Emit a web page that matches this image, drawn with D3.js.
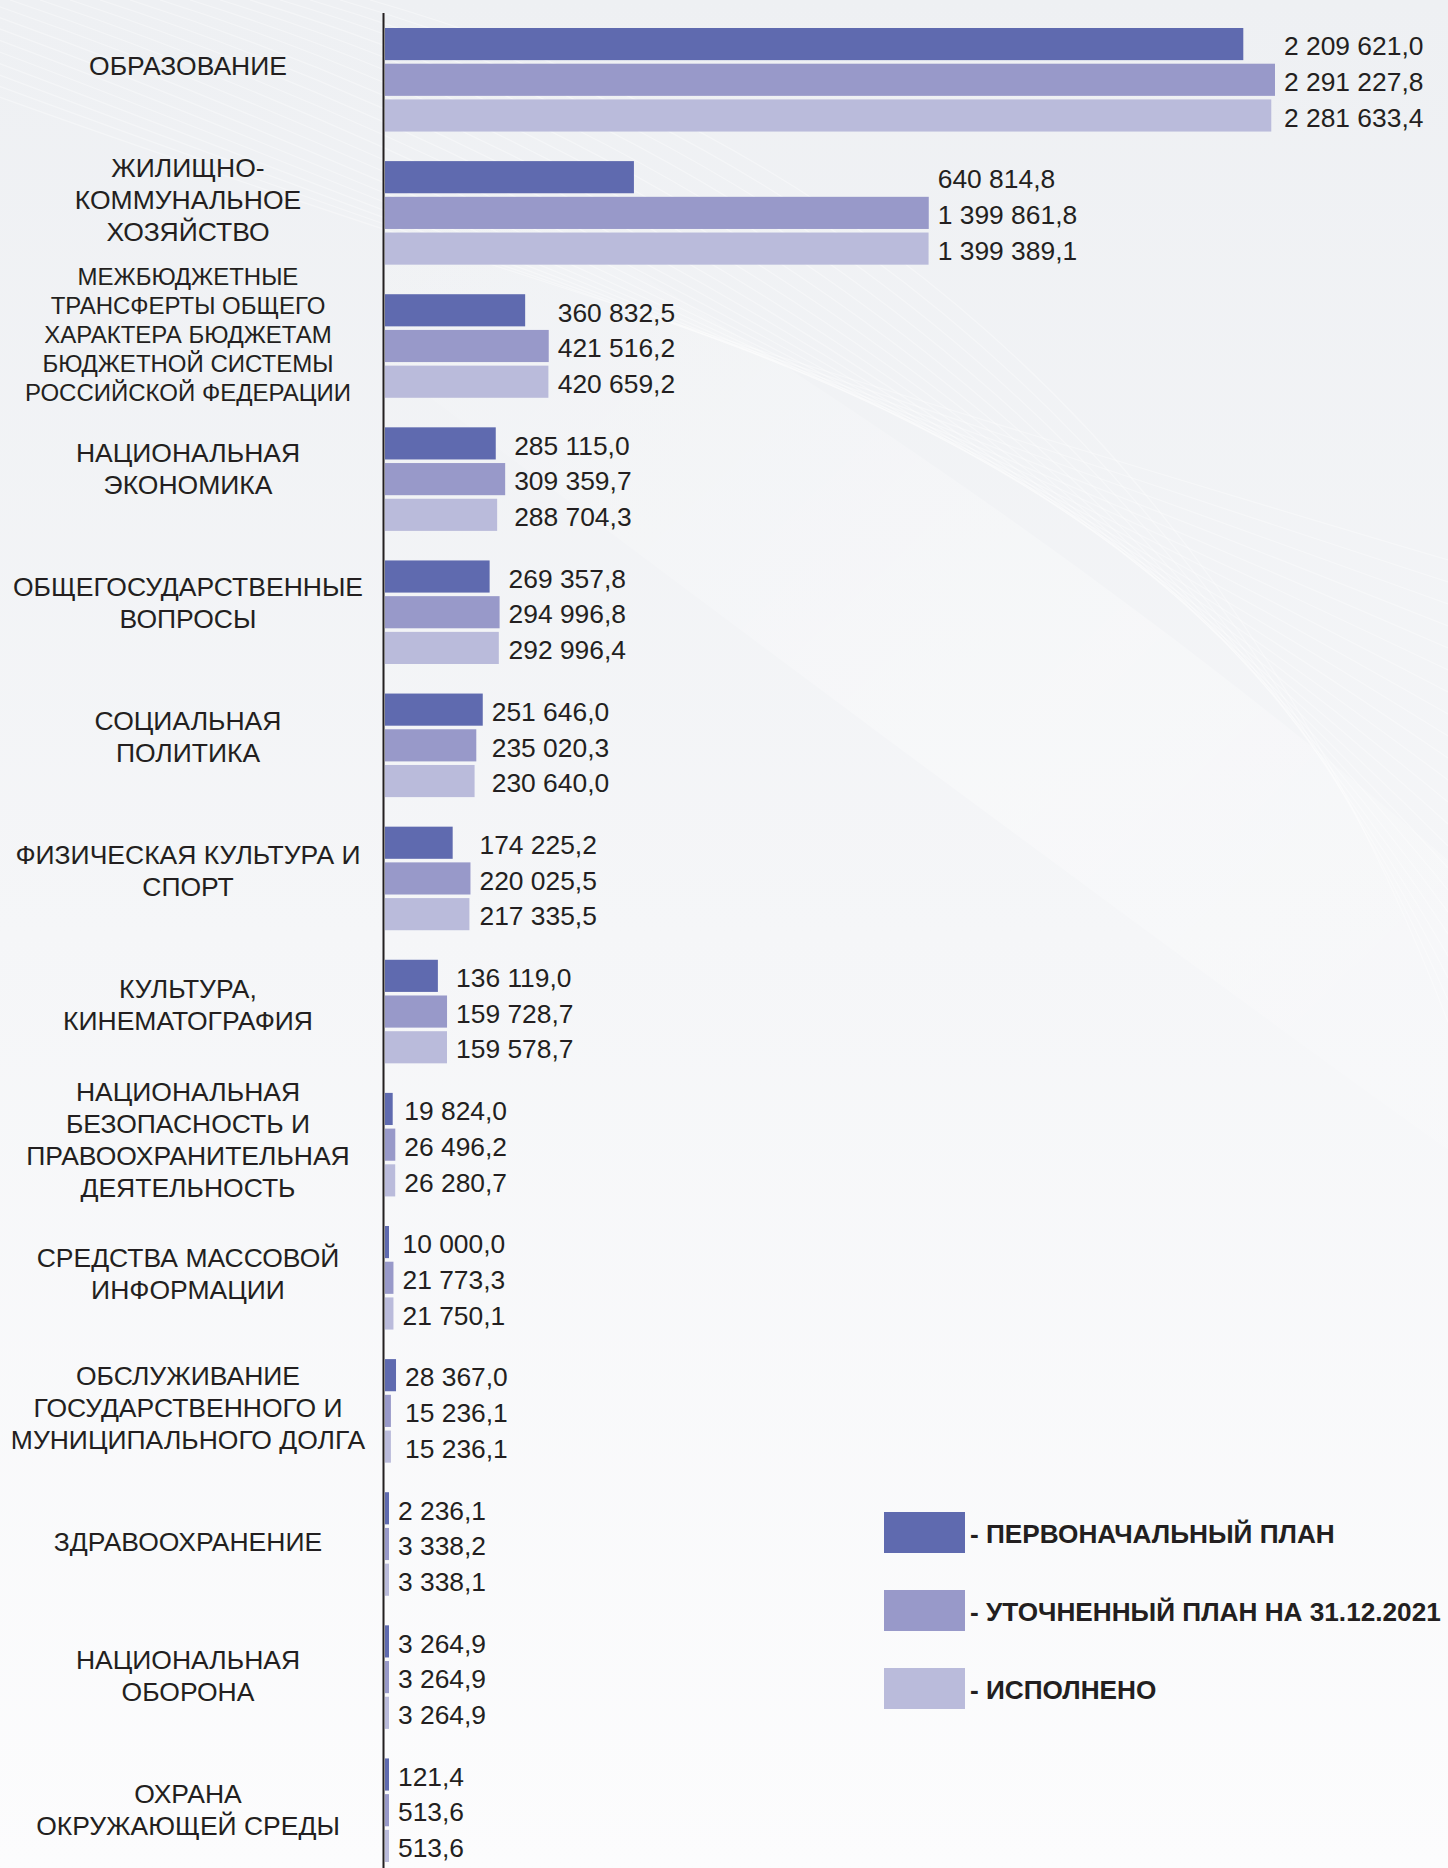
<!DOCTYPE html>
<html>
<head>
<meta charset="utf-8">
<script src="https://cdn.jsdelivr.net/npm/d3@7"></script>
<style>
  html, body { margin: 0; padding: 0; background: #f4f5f7; }
  svg { display: block; font-family: "Liberation Sans", Arial, sans-serif; }
</style>
</head>
<body>
<svg width="1448" height="1868"></svg>
<script>
// categories (label lines split by "\n")
var categories = [
    "ОБРАЗОВАНИЕ",
    "ЖИЛИЩНО-\nКОММУНАЛЬНОЕ\nХОЗЯЙСТВО",
    "МЕЖБЮДЖЕТНЫЕ\nТРАНСФЕРТЫ ОБЩЕГО\nХАРАКТЕРА БЮДЖЕТАМ\nБЮДЖЕТНОЙ СИСТЕМЫ\nРОССИЙСКОЙ ФЕДЕРАЦИИ",
    "НАЦИОНАЛЬНАЯ\nЭКОНОМИКА",
    "ОБЩЕГОСУДАРСТВЕННЫЕ\nВОПРОСЫ",
    "СОЦИАЛЬНАЯ\nПОЛИТИКА",
    "ФИЗИЧЕСКАЯ КУЛЬТУРА И\nСПОРТ",
    "КУЛЬТУРА,\nКИНЕМАТОГРАФИЯ",
    "НАЦИОНАЛЬНАЯ\nБЕЗОПАСНОСТЬ И\nПРАВООХРАНИТЕЛЬНАЯ\nДЕЯТЕЛЬНОСТЬ",
    "СРЕДСТВА МАССОВОЙ\nИНФОРМАЦИИ",
    "ОБСЛУЖИВАНИЕ\nГОСУДАРСТВЕННОГО И\nМУНИЦИПАЛЬНОГО ДОЛГА",
    "ЗДРАВООХРАНЕНИЕ",
    "НАЦИОНАЛЬНАЯ\nОБОРОНА",
    "ОХРАНА\nОКРУЖАЮЩЕЙ СРЕДЫ"
];

var seriesNames = [
    "- ПЕРВОНАЧАЛЬНЫЙ ПЛАН",
    "- УТОЧНЕННЫЙ ПЛАН НА 31.12.2021",
    "- ИСПОЛНЕНО"
];

var initialPlan = [2209621.0, 640814.8, 360832.5, 285115.0, 269357.8, 251646.0, 174225.2,
    136119.0, 19824.0, 10000.0, 28367.0, 2236.1, 3264.9, 121.4];
var revisedPlan = [2291227.8, 1399861.8, 421516.2, 309359.7, 294996.8, 235020.3, 220025.5,
    159728.7, 26496.2, 21773.3, 15236.1, 3338.2, 3264.9, 513.6];
var executed = [2281633.4, 1399389.1, 420659.2, 288704.3, 292996.4, 230640.0, 217335.5,
    159578.7, 26280.7, 21750.1, 15236.1, 3338.1, 3264.9, 513.6];

var colors = ["#5f6aaf", "#9899c9", "#babbdb"];

var svg = d3.select("svg"),
    width = +svg.attr("width"),
    height = +svg.attr("height");

var series = [initialPlan, revisedPlan, executed];
var rows = categories.map(function (c, i) {
    return {
        name: c,
        index: i,
        values: series.map(function (s, k) { return {k: k, v: s[i]}; })
    };
});

// background: grey at the top, whiter lower down, faint white streaks
var defs = svg.append("defs");
var bg = defs.append("linearGradient").attr("id", "bg")
    .attr("x1", 0).attr("y1", 0).attr("x2", 0).attr("y2", 1);
bg.append("stop").attr("offset", "0%").attr("stop-color", "#eef0f3");
bg.append("stop").attr("offset", "50%").attr("stop-color", "#f5f6f8");
bg.append("stop").attr("offset", "100%").attr("stop-color", "#fcfcfd");
svg.append("rect").attr("width", width).attr("height", height).attr("fill", "url(#bg)");

var sweep = defs.append("linearGradient").attr("id", "sweep")
    .attr("x1", 0).attr("y1", 0).attr("x2", 1).attr("y2", 1);
sweep.append("stop").attr("offset", "0%").attr("stop-color", "#ffffff").attr("stop-opacity", 0);
sweep.append("stop").attr("offset", "60%").attr("stop-color", "#ffffff").attr("stop-opacity", 0.3);
sweep.append("stop").attr("offset", "100%").attr("stop-color", "#ffffff").attr("stop-opacity", 0.1);
svg.append("path")
    .attr("d", "M380,120 C700,300 1100,560 1448,860 L1448,1150 C1100,900 700,600 380,360 Z")
    .attr("fill", "url(#sweep)");

var streaks = svg.append("g").attr("stroke", "#ffffff").attr("fill", "none");
d3.range(0, 22).forEach(function (i) {
    streaks.append("path")
        .attr("d", "M" + (-260 + i * 30) + ",0 Q" + (300 + i * 40) + ",220 " + (1448) + "," + (560 + i * 22))
        .attr("stroke-width", 1.3)
        .attr("stroke-opacity", 0.35);
});

// scales
var scaleX = d3.scaleLinear()
    .domain([0, d3.max(revisedPlan)])
    .range([385, 1275]);

var scaleY = d3.scaleBand()
    .domain(d3.range(categories.length))
    .range([28, 1862])
    .paddingInner(0.222)
    .paddingOuter(0)
    .align(0);

var scaleBar = d3.scaleBand()
    .domain([0, 1, 2])
    .range([0, scaleY.bandwidth()])
    .paddingInner(0.1);

var minBar = 4;
function barWidth(v) {
    return Math.max(scaleX(v) - scaleX(0), minBar);
}

var groups = svg.append("g").selectAll(".grp")
    .data(rows)
    .enter().append("g")
    .attr("class", "grp")
    .attr("transform", function (d) { return "translate(0," + scaleY(d.index) + ")"; });

groups.selectAll("rect")
    .data(function (d) { return d.values; })
    .enter().append("rect")
    .attr("x", scaleX(0))
    .attr("y", function (d) { return scaleBar(d.k); })
    .attr("width", function (d) { return barWidth(d.v); })
    .attr("height", scaleBar.bandwidth())
    .attr("fill", function (d) { return colors[d.k]; });

var fmt = d3.formatLocale({decimal: ",", thousands: " ", grouping: [3], currency: ["", ""]}).format(",.1f");

groups.each(function (row) {
    var g = d3.select(this);
    var maxW = d3.max(row.values, function (d) { return barWidth(d.v); });
    g.selectAll("text.val")
        .data(row.values)
        .enter().append("text")
        .attr("class", "val")
        .attr("x", scaleX(0) + maxW + 9)
        .attr("y", function (d) { return scaleBar(d.k) + scaleBar.bandwidth() / 2 + 2; })
        .attr("dy", "0.35em")
        .style("font-size", "26.4px")
        .attr("fill", "#231f20")
        .text(function (d) { return fmt(d.v); });
});

// category labels
var labelX = 188;
groups.each(function (row) {
    var lines = row.name.split("\n");
    var big = lines.length > 4;
    var lh = big ? 29 : 32;
    var fs = big ? 24 : 26.5;
    var center = scaleY.bandwidth() / 2 - 14 + row.index * (14 / 13);
    var t = d3.select(this).append("text")
        .attr("text-anchor", "middle")
        .attr("fill", "#231f20")
        .style("font-size", fs + "px");
    lines.forEach(function (ln, j) {
        t.append("tspan")
            .attr("x", labelX)
            .attr("y", center + (j - (lines.length - 1) / 2) * lh)
            .attr("dy", "0.35em")
            .text(ln);
    });
});

// axis
svg.append("line")
    .attr("x1", 383.5).attr("x2", 383.5)
    .attr("y1", 13).attr("y2", height)
    .attr("stroke", "#231f20")
    .attr("stroke-width", 2);

// legend
var legend = svg.append("g").selectAll(".leg")
    .data(seriesNames)
    .enter().append("g")
    .attr("class", "leg")
    .attr("transform", function (d, i) { return "translate(884," + (1532 + i * 78) + ")"; });

legend.append("rect")
    .attr("x", 0).attr("y", -20)
    .attr("width", 81).attr("height", 41)
    .attr("fill", function (d, i) { return colors[i]; });

legend.append("text")
    .attr("x", 86)
    .attr("y", 2)
    .attr("dy", "0.35em")
    .style("font-size", "26.2px")
    .style("font-weight", "bold")
    .attr("fill", "#231f20")
    .text(function (d) { return d; });
</script>
</body>
</html>
